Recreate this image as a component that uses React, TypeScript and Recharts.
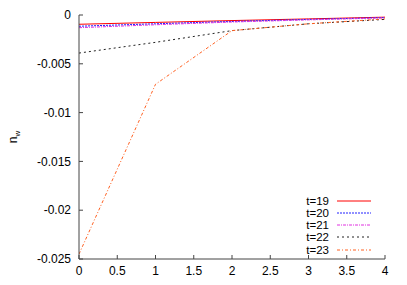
import { LineChart, Line, XAxis, YAxis, Legend } from 'recharts';

const xValues = [0, 1, 2, 3, 4];
const t19 = [-0.00095, -0.00076, -0.00057, -0.0004, -0.00022];
const t20 = [-0.00115, -0.0009, -0.00066, -0.00045, -0.00026];
const t21 = [-0.0013, -0.001, -0.00072, -0.0005, -0.0003];
const t22 = [-0.0039, -0.0028, -0.0016, -0.0009, -0.00045];
const t23 = [-0.0245, -0.0071, -0.0016, -0.0009, -0.0004];

const xTicks = [0, 0.5, 1, 1.5, 2, 2.5, 3, 3.5, 4];
const yTicks = [-0.025, -0.02, -0.015, -0.01, -0.005, 0];

const series = [
    { key: 't19', name: 't=19', values: t19, color: '#ff0000', dash: undefined },
    { key: 't20', name: 't=20', values: t20, color: '#2020ff', dash: '2 1' },
    { key: 't21', name: 't=21', values: t21, color: '#e030e0', dash: '3 1 1 1' },
    { key: 't22', name: 't=22', values: t22, color: '#222222', dash: '2 3' },
    { key: 't23', name: 't=23', values: t23, color: '#ff6020', dash: '3 2 1 2' },
];

const chartData = xValues.map((x, i) => {
    const row: any = { x };
    series.forEach(s => {
        row[s.key] = s.values[i];
    });
    return row;
});

const FONT = '"Liberation Sans", Arial, sans-serif';
const AXIS = '#444';

function YLabel() {
    return (
        <text
            x={0}
            y={0}
            transform="translate(17, 137) rotate(-90)"
            textAnchor="middle"
            fontFamily={FONT}
            fontSize={12}
            fill="#000"
        >
            n
            <tspan fontSize={8} dy={3}>w</tspan>
        </text>
    );
}

function renderLegend() {
    return (
        <div style={{ fontFamily: FONT, fontSize: 11.5, lineHeight: '12px', color: '#000' }}>
            {series.map(s => (
                <div
                    key={s.key}
                    style={{
                        display: 'flex',
                        alignItems: 'center',
                        justifyContent: 'flex-end',
                        height: 12.25,
                    }}
                >
                    <span style={{ display: 'inline-block', height: 12, lineHeight: '12px', overflow: 'visible' }}>{s.name}</span>
                    <svg width={43} height={6}>
                        <line
                            x1={8}
                            x2={42}
                            y1={3}
                            y2={3}
                            stroke={s.color}
                            strokeWidth={1}
                            strokeDasharray={s.dash}
                        />
                    </svg>
                </div>
            ))}
        </div>
    );
}

export default function App() {
    return (
        <div style={{ position: 'absolute', left: 0, top: 0, background: '#fff' }}>
            <LineChart
                width={407}
                height={285}
                data={chartData}
                margin={{ top: 15, right: 22, left: 0, bottom: 0 }}
            >
                <XAxis
                    dataKey="x"
                    type="number"
                    domain={[0, 4]}
                    ticks={xTicks}
                    height={26}
                    tickSize={-4}
                    tickMargin={11}
                    stroke={AXIS}
                    tick={{ fill: '#000', fontSize: 12, fontFamily: FONT }}
                    allowDataOverflow
                />
                <XAxis
                    xAxisId="top"
                    orientation="top"
                    dataKey="x"
                    type="number"
                    domain={[0, 4]}
                    ticks={xTicks}
                    height={0}
                    tickSize={-4}
                    tickFormatter={() => ''}
                    stroke={AXIS}
                    allowDataOverflow
                />
                <YAxis
                    type="number"
                    domain={[-0.025, 0]}
                    ticks={yTicks}
                    width={79}
                    tickSize={-4}
                    tickMargin={12}
                    stroke={AXIS}
                    tick={{ fill: '#000', fontSize: 12, fontFamily: FONT }}
                    label={{ content: YLabel }}
                    allowDataOverflow
                />
                <YAxis
                    yAxisId="right"
                    orientation="right"
                    type="number"
                    domain={[-0.025, 0]}
                    ticks={yTicks}
                    width={0}
                    tickSize={-4}
                    tickFormatter={() => ''}
                    stroke={AXIS}
                    allowDataOverflow
                />
                <Legend
                    layout="vertical"
                    align="center"
                    verticalAlign="middle"
                    content={renderLegend}
                    wrapperStyle={{ position: 'absolute', left: 290, top: 194.5, width: 82 }}
                />
                {series.map(s => (
                    <Line
                        key={s.key}
                        dataKey={s.key}
                        name={s.name}
                        type="linear"
                        stroke={s.color}
                        strokeWidth={1}
                        strokeDasharray={s.dash}
                        dot={false}
                        activeDot={false}
                        isAnimationActive={false}
                    />
                ))}
            </LineChart>
        </div>
    );
}
